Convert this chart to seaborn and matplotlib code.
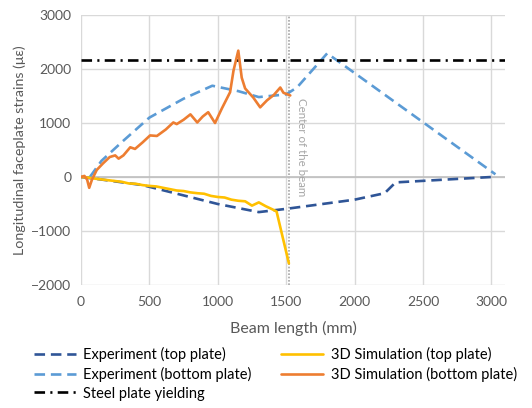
import numpy as np
import pandas as pd
import matplotlib
matplotlib.use("Agg")
import matplotlib.pyplot as plt
import seaborn as sns

# ---- data ----
exp_top_x = [0, 100, 450, 1000, 1300, 1500, 2000, 2220, 2300, 3000]
exp_top_y = [0, -30, -150, -500, -650, -590, -420, -300, -100, 0]

exp_bot_x = [65, 150, 300, 500, 750, 960, 1150, 1300, 1500, 1580, 1800, 3030]
exp_bot_y = [0, 300, 650, 1100, 1450, 1690, 1590, 1480, 1530, 1660, 2290, 50]

sim_top_x = [0, 50, 100, 200, 300, 350, 400, 450, 500, 550, 600, 650, 700, 750, 800,
             850, 900, 950, 1000, 1050, 1100, 1150, 1200, 1250, 1300, 1350, 1400, 1430, 1520]
sim_top_y = [0, -10, -30, -60, -90, -120, -125, -150, -165, -175, -200, -225, -250, -260, -285,
             -300, -310, -350, -370, -380, -420, -440, -450, -530, -470, -540, -600, -640, -1600]

sim_bot_x = [0, 25, 45, 60, 80, 115, 160, 210, 250, 275, 310, 360, 395, 450, 505, 555, 620,
             675, 700, 750, 800, 850, 890, 930, 980, 1030, 1090, 1115, 1150, 1175, 1200, 1260,
             1310, 1360, 1410, 1457, 1480, 1500, 1530]
sim_bot_y = [0, 20, -50, -200, -50, 130, 250, 370, 400, 340, 400, 550, 520, 640, 770, 760, 880,
             1010, 980, 1060, 1160, 1010, 1120, 1200, 1000, 1270, 1570, 1970, 2340, 1840, 1640, 1470,
             1290, 1420, 1520, 1657, 1560, 1540, 1510]

yield_x = [0, 3100]
yield_y = [2175, 2175]
center_x = 1520

x_ticks = [0, 500, 1000, 1500, 2000, 2500, 3000]
y_ticks = [-2000, -1000, 0, 1000, 2000, 3000]

labels = ["Experiment (top plate)", "Experiment (bottom plate)", "Steel plate yielding",
          "3D Simulation (top plate)", "3D Simulation (bottom plate)"]

# ---- style ----
sns.set_theme(style="white")
plt.rcParams['font.family'] = ['Lato', 'DejaVu Sans']
txt = "#595959"

fig = plt.figure(figsize=(5.32, 4.08), dpi=100)
ax = fig.add_axes([81/532, 1-285/408, (505-81)/532, (285-15)/408])

lw = 1.9
sns.lineplot(x=exp_top_x, y=exp_top_y, ax=ax, color="#2F5597", lw=lw,
             linestyle=(0, (4, 2.2)), estimator=None, sort=False, label=labels[0])
sns.lineplot(x=exp_bot_x, y=exp_bot_y, ax=ax, color="#5B9BD5", lw=lw,
             linestyle=(0, (4, 2.2)), estimator=None, sort=False, label=labels[1])
sns.lineplot(x=yield_x, y=yield_y, ax=ax, color="black", lw=lw,
             linestyle=(0, (4, 2, 0.8, 2)), estimator=None, sort=False, label=labels[2])
sns.lineplot(x=sim_top_x, y=sim_top_y, ax=ax, color="#FFC000", lw=lw,
             estimator=None, sort=False, label=labels[3])
sns.lineplot(x=sim_bot_x, y=sim_bot_y, ax=ax, color="#ED7D31", lw=lw,
             estimator=None, sort=False, label=labels[4])

ax.axvline(center_x, color="#a6a6a6", lw=1.2, linestyle=(0, (1, 1)), zorder=1)
ax.text(center_x + 95, 1470, "Center of the beam", rotation=270, ha="center", va="top",
        fontsize=8.3, color="#a6a6a6")

ax.set_xlim(0, 3100)
ax.set_ylim(-2000, 3000)
ax.set_xticks(x_ticks)
ax.set_yticks(y_ticks)
ax.grid(True, color="#d9d9d9", lw=1)
ax.axhline(0, color="#bfbfbf", lw=1.2, zorder=1)
for s in ax.spines.values():
    s.set_visible(False)
ax.tick_params(length=0, labelsize=10, labelcolor=txt)
ax.tick_params(axis="x", pad=8)
ax.tick_params(axis="y", pad=7)
ax.set_xlabel("Beam length (mm)", fontsize=11.5, color=txt, labelpad=9)
ax.set_ylabel("Longitudinal faceplate strains (\u03bc\u03b5)", fontsize=10.3, color=txt, labelpad=4)

ax.get_legend().remove()
h, l = ax.get_legend_handles_labels()
fig.legend(h, l, loc="upper left", bbox_to_anchor=(28/532, 1-341/408), ncol=2, frameon=False,
           fontsize=10.5, handlelength=2.9, labelspacing=0.33, columnspacing=2.0,
           handletextpad=0.5, labelcolor="black", borderaxespad=0)

fig.savefig("out.png", dpi=100)
